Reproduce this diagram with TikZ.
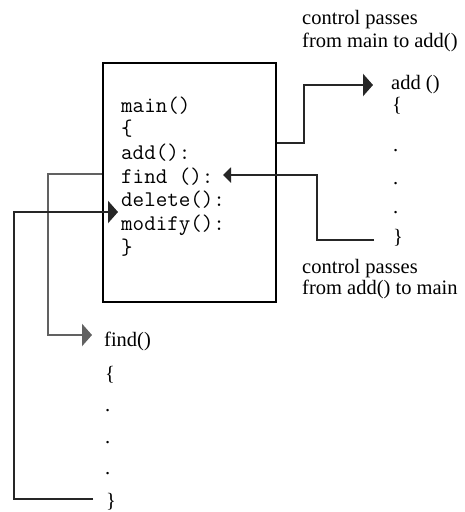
\documentclass[tikz,border=0pt]{standalone}
\usepackage{fontspec}
\setmainfont{Liberation Serif}
\usetikzlibrary{arrows.meta}
\begin{document}
\begin{tikzpicture}[x=1pt,y=-1pt,
  lbl/.style={anchor=base west, inner sep=0pt, font=\fontsize{20.5}{23}\selectfont},
  code/.style={anchor=base west, inner sep=0pt, font=\ttfamily\fontsize{22.4}{24}\selectfont},
  conn/.style={line width=2.6pt, draw=black!85},
  softconn/.style={line width=2.8pt, draw=black!62},
  bigtip/.style={-{Triangle[length=10pt,width=22pt]}},
  smalltip/.style={-{Triangle[length=8pt,width=15pt]}},
  boxstyle/.style={draw, line width=2pt, minimum width=173pt, minimum height=239pt, inner sep=0pt}]
\useasboundingbox (0,0) rectangle (464,512);
\fill[white] (0,0) rectangle (464,512);

% main box
\node[boxstyle] (mainbox) at (189,182.5) {};
\node[code] (m1) at (121,112) {main()};
\node[code] (m2) at (121,135.7) {\{};
\node[code] (m3) at (121,159.4) {add():};
\node[code] (m4) at (121,183.1) {find ():};
\node[code] (m5) at (121,206.8) {delete():};
\node[code] (m6) at (121,230.5) {modify():};
\node[code] (m7) at (121,254.2) {\}};

% add() column
\node[lbl] (ctl1) at (302,24) {control passes};
\node[lbl] (ctl2) at (302,47) {from main to add()};
\node[lbl] (addh) at (391,89) {add ()};
\node[lbl] (ab1) at (392,111) {\{};
\node[lbl] (ad1) at (393,151) {.};
\node[lbl] (ad2) at (393,184) {.};
\node[lbl] (ad3) at (393,213) {.};
\node[lbl] (ab2) at (393,243) {\}};
\node[lbl] (ret1) at (302,273) {control passes};
\node[lbl] (ret2) at (302,294) {from add() to main};

% find() column
\node[lbl] (findh) at (104,346) {find()};
\node[lbl] (fb1) at (105,380) {\{};
\node[lbl] (fd1) at (105,411) {.};
\node[lbl] (fd2) at (105,443) {.};
\node[lbl] (fd3) at (105,474) {.};
\node[lbl] (fb2) at (106,507) {\}};

% connector end points
\coordinate (addtip) at (373,85);
\coordinate (addend) at (374,240);
\coordinate (findtip) at (223,175);
\coordinate (deltip) at (118,212);
\coordinate (fheadtip) at (92,335);
\coordinate (fend) at (93,499);

% connectors
\draw[conn,bigtip] ([yshift=39.5pt]mainbox.east) -| (304,85) -- (addtip);
\draw[conn,smalltip] (addend) -| (317,175) -- (findtip);
\draw[softconn,bigtip] ([yshift=8.5pt]mainbox.west) -| (48,335) -- (fheadtip);
\draw[conn,bigtip] (fend) -| (14,212) -- (deltip);
\end{tikzpicture}
\end{document}
